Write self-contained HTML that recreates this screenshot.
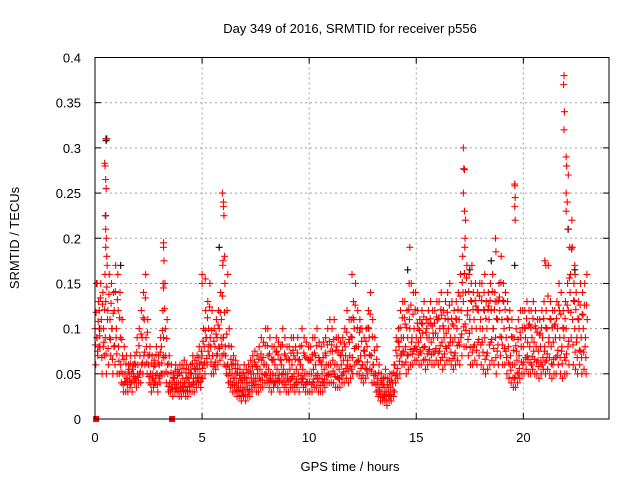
<!DOCTYPE html>
<html><head><meta charset="utf-8"><style>
body{margin:0;background:#fff}
svg{display:block;font-family:"Liberation Sans",sans-serif}
</style></head><body>
<svg id="chart" width="640" height="480">
<rect width="640" height="480" fill="#fff"/>
<text x="350" y="33" font-size="13" text-anchor="middle">Day 349 of 2016, SRMTID for receiver p556</text>
<text transform="translate(19,238) rotate(-90)" font-size="13" text-anchor="middle">SRMTID / TECUs</text>
<text x="350" y="471" font-size="13" text-anchor="middle">GPS time / hours</text>
<g id="grid"></g><g id="ticks"></g><g id="pts"></g>
<rect x="95" y="57.5" width="514" height="361.5" fill="none" stroke="#000" stroke-width="1"/>
</svg>
<script>
const xTicks=[0,5,10,15,20];
const yTicks=[0,0.05,0.1,0.15,0.2,0.25,0.3,0.35,0.4];
const yTickLabels=["0","0.05","0.1","0.15","0.2","0.25","0.3","0.35","0.4"];
const binStart=0, binStep=0.1;
const rowA=[.10,.09,.12,.11,.10,.13,.12,.11,.10,.12, .10,.08,.06,.05,.05,.045,.05,.05,.05,.06, .06,.07,.09,.11,.08,.06,.05,.05,.06,.05, .06,.08,.09,.07,.05,.04,.04,.045,.04,.04, .04,.045,.04,.035,.04,.05,.045,.05,.055,.05, .07,.08,.09,.10,.08,.07,.08,.09,.10,.11, .09,.07,.06,.05,.05,.045,.04,.04,.035,.04, .035,.04,.04,.045,.05,.045,.05,.055,.05,.06, .06,.055,.05,.05,.06,.055,.05,.06,.055,.05, .05,.055,.06,.05,.055,.05,.06,.055,.05,.05, .05,.05,.055,.06,.05,.045,.05,.055,.06,.06, .06,.065,.06,.06,.055,.06,.065,.07,.065,.07, .09,.10,.08,.08,.07,.06,.07,.08,.09,.07, .06,.05,.04,.035,.03,.035,.03,.03,.035,.04, .06,.07,.08,.09,.09,.08,.09,.10,.09,.10, .09,.085,.09,.095,.08,.09,.09,.085,.09,.095, .09,.10,.085,.09,.095,.10,.09,.085,.09,.10, .11,.12,.13,.14,.12,.11,.10,.11,.10,.12, .11,.10,.09,.10,.11,.12,.10,.09,.11,.12, .11,.10,.09,.08,.07,.06,.06,.065,.07,.08, .08,.09,.085,.08,.09,.085,.08,.075,.08,.09, .08,.10,.09,.08,.085,.09,.10,.09,.08,.09, .10,.12,.16,.11,.10,.09,.10,.09,.10,.09];
const rowB=[.06,.07,.08,.05,.07,.05,.06,.07,.05,.06, .05,.05,.04,.03,.03,.03,.035,.03,.04,.035, .04,.04,.05,.06,.05,.04,.03,.035,.04,.03, .04,.05,.05,.04,.03,.03,.025,.03,.03,.025, .025,.03,.025,.025,.03,.03,.03,.035,.04,.035, .045,.05,.06,.07,.05,.05,.055,.06,.065,.07, .06,.05,.04,.035,.03,.03,.025,.025,.02,.025, .02,.025,.025,.03,.035,.03,.03,.035,.035,.04, .04,.035,.03,.035,.04,.035,.03,.04,.035,.03, .03,.035,.035,.03,.035,.03,.04,.035,.03,.03, .03,.03,.035,.035,.03,.03,.03,.035,.04,.04, .04,.04,.035,.035,.035,.04,.04,.045,.04,.045, .05,.06,.05,.05,.045,.04,.045,.05,.055,.04, .04,.03,.025,.02,.02,.02,.015,.02,.02,.025, .04,.045,.05,.06,.06,.05,.055,.06,.06,.065, .065,.06,.06,.065,.055,.06,.065,.06,.06,.065, .06,.065,.055,.06,.065,.065,.06,.055,.06,.065, .06,.07,.08,.08,.07,.06,.06,.065,.06,.07, .06,.055,.05,.055,.06,.065,.06,.05,.06,.07, .06,.06,.05,.045,.04,.035,.035,.04,.045,.05, .05,.055,.05,.05,.055,.05,.05,.045,.05,.055, .05,.055,.05,.045,.05,.05,.06,.05,.045,.05, .05,.06,.09,.06,.055,.05,.06,.05,.055,.05];
const rowC=[.15,.13,.15,.14,.16,.17,.16,.15,.14,.17, .16,.14,.11,.08,.07,.06,.07,.06,.07,.09, .10,.12,.14,.16,.11,.08,.07,.065,.08,.07, .09,.12,.15,.11,.07,.06,.05,.06,.055,.06, .06,.065,.06,.055,.06,.07,.065,.07,.08,.075, .10,.12,.13,.15,.12,.10,.11,.12,.14,.17, .15,.12,.10,.08,.07,.065,.06,.055,.05,.06, .055,.06,.065,.07,.075,.07,.08,.09,.085,.10, .10,.09,.08,.08,.09,.085,.08,.10,.09,.08, .08,.09,.09,.08,.09,.08,.10,.09,.085,.08, .08,.09,.09,.10,.085,.08,.085,.09,.10,.11, .10,.11,.09,.09,.085,.09,.10,.12,.11,.11, .13,.15,.12,.11,.10,.09,.10,.12,.14,.11, .09,.08,.06,.05,.045,.055,.045,.05,.05,.06, .09,.10,.12,.13,.13,.12,.15,.15,.14,.14, .12,.11,.12,.13,.11,.12,.13,.12,.12,.13, .13,.14,.12,.13,.14,.15,.13,.12,.13,.14, .16,.18,.19,.17,.16,.15,.14,.15,.14,.15, .15,.14,.13,.14,.15,.16,.14,.13,.15,.18, .15,.14,.13,.12,.11,.09,.10,.11,.12,.12, .12,.13,.12,.12,.13,.12,.11,.11,.12,.13, .12,.17,.13,.12,.12,.13,.15,.14,.12,.13, .15,.19,.22,.15,.14,.13,.15,.14,.15,.16];
const rowD=[.09,.08,.10,.08,.09,.11,.09,.10,.08,.09, .12,.09,.07,.04,.045,.055,.04,.06,.045,.05, .05,.06,.07,.09,.07,.05,.045,.04,.05,.045, .05,.07,.10,.06,.04,.035,.045,.035,.05,.035, .035,.04,.045,.04,.05,.04,.055,.045,.06,.045, .06,.09,.075,.09,.07,.06,.07,.08,.09,.09, .08,.06,.055,.06,.045,.05,.035,.045,.03,.045, .04,.03,.05,.04,.06,.055,.045,.065,.06,.05, .07,.045,.065,.04,.075,.045,.065,.05,.07,.045, .065,.045,.07,.04,.065,.06,.045,.07,.04,.065, .065,.04,.07,.045,.065,.06,.04,.07,.05,.075, .075,.05,.08,.045,.07,.05,.08,.06,.085,.055, .11,.08,.065,.10,.06,.075,.055,.10,.07,.06, .05,.045,.03,.04,.025,.03,.035,.025,.04,.03, .05,.085,.07,.075,.105,.07,.11,.085,.075,.08, .10,.075,.105,.08,.10,.075,.105,.095,.075,.11, .075,.115,.10,.08,.11,.085,.105,.07,.11,.085, .09,.14,.105,.115,.095,.13,.08,.125,.085,.10, .085,.12,.07,.125,.085,.10,.13,.075,.135,.09, .13,.075,.11,.06,.09,.045,.075,.05,.09,.06, .10,.07,.105,.06,.075,.10,.065,.095,.06,.075, .065,.085,.11,.06,.105,.07,.12,.075,.10,.065, .08,.14,.19,.13,.085,.11,.075,.115,.08,.11];
const rowE=[.082,.075,.092,.068,.085,.072,.078,.088,.066,.081, .072,.064,.052,.038,.041,.038,.043,.041,.047,.043, .046,.052,.062,.074,.062,.047,.038,.043,.048,.038, .048,.062,.068,.052,.036,.032,.033,.038,.034,.031, .031,.036,.032,.031,.036,.038,.038,.042,.046,.041, .056,.062,.067,.082,.063,.058,.063,.072,.078,.082, .072,.058,.048,.042,.038,.037,.032,.031,.026,.032, .027,.033,.032,.037,.042,.038,.038,.043,.043,.049, .048,.043,.041,.042,.048,.043,.041,.049,.043,.038, .041,.043,.047,.038,.044,.041,.048,.044,.038,.041, .041,.038,.044,.048,.041,.037,.041,.044,.048,.049, .049,.053,.047,.046,.044,.048,.052,.056,.053,.058, .068,.078,.063,.064,.056,.048,.056,.063,.071,.053, .048,.038,.032,.027,.024,.027,.022,.026,.027,.032, .048,.056,.064,.072,.074,.063,.071,.077,.072,.078, .077,.071,.073,.079,.066,.072,.077,.071,.073,.078, .073,.081,.068,.072,.078,.081,.074,.067,.073,.081, .082,.094,.102,.098,.088,.079,.074,.082,.076,.088, .082,.074,.066,.073,.082,.088,.078,.068,.082,.091, .082,.078,.068,.062,.054,.046,.046,.051,.056,.063, .063,.068,.066,.062,.069,.066,.063,.058,.063,.068, .063,.072,.068,.061,.066,.068,.076,.068,.061,.068, .072,.086,.118,.082,.074,.068,.076,.068,.074,.068];
const rowF=[.118,.108,.134,.127,.121,.146,.138,.128,.117,.141, .132,.112,.088,.066,.061,.052,.061,.055,.061,.074, .081,.094,.112,.134,.096,.071,.062,.058,.071,.062, .074,.098,.122,.089,.061,.051,.046,.053,.048,.051, .051,.056,.051,.046,.051,.061,.056,.061,.068,.063, .086,.098,.112,.124,.098,.086,.094,.104,.118,.136, .118,.094,.081,.066,.061,.056,.051,.048,.043,.051, .046,.051,.053,.058,.063,.058,.066,.072,.068,.081, .081,.072,.066,.066,.074,.071,.066,.082,.072,.066, .066,.073,.076,.066,.073,.066,.081,.073,.068,.066, .066,.071,.073,.081,.068,.063,.068,.073,.082,.086, .082,.088,.076,.074,.071,.076,.083,.096,.088,.091, .112,.126,.101,.096,.086,.076,.086,.101,.116,.091, .076,.066,.051,.043,.038,.046,.038,.041,.043,.051, .076,.086,.101,.112,.112,.101,.121,.126,.116,.121, .106,.098,.106,.113,.096,.106,.111,.103,.106,.113, .111,.121,.103,.111,.118,.126,.111,.103,.111,.121, .136,.151,.161,.156,.141,.131,.121,.131,.121,.136, .131,.121,.111,.121,.131,.141,.121,.111,.131,.151, .131,.121,.111,.101,.091,.076,.081,.088,.096,.101, .101,.111,.103,.101,.111,.103,.096,.093,.101,.111, .101,.136,.111,.101,.103,.111,.126,.116,.101,.111, .126,.156,.188,.131,.121,.111,.126,.116,.126,.126];
const spikeT=[0.1,0.45,0.47,0.5,0.5,0.52,0.48,0.5,0.53,0.5,0.55,3.2,3.2,3.22,3.18,3.2,5.0,5.0,5.15,5.95,6.0,6.0,6.02,6.05,5.98,6.2,12.0,14.7,17.2,17.22,17.25,17.2,17.25,17.3,17.28,17.6,18.2,18.7,18.72,19.6,19.6,19.62,19.6,19.62,21.0,21.05,21.9,21.88,21.92,21.9,22.0,22.02,22.0,22.05,22.0,22.08,22.1,22.4,22.42];
const spikeV=[.15,.283,.28,.31,.265,.255,.225,.21,.2,.19,.18,.195,.19,.175,.15,.145,.16,.15,.155,.25,.24,.235,.225,.18,.175,.16,.16,.19,.30,.277,.276,.25,.23,.22,.20,.17,.16,.20,.185,.26,.258,.245,.235,.22,.175,.17,.38,.37,.34,.32,.29,.28,.25,.24,.23,.21,.27,.17,.16];
const blackT=[0.52,0.55,0.5,0.2,1.2,5.8,14.6,17.5,18.5,19.6,22.1,22.4];
const blackV=[.308,.31,.225,.10,.17,.19,.165,.165,.175,.17,.21,.165];
const markerT=[0.05,3.6];
const markerV=[0,0];

const X0=95,X1=609,Y0=419,Y1=57.5,XMAX=24,YMAX=0.4;
const sx=t=>X0+t/XMAX*(X1-X0);
const sy=v=>Y0-v/YMAX*(Y0-Y1);
const NS="http://www.w3.org/2000/svg";
function mk(tag,attrs,parent){const e=document.createElementNS(NS,tag);for(const k in attrs)e.setAttribute(k,attrs[k]);parent.appendChild(e);return e;}
const grid=document.getElementById('grid'),ticks=document.getElementById('ticks'),pts=document.getElementById('pts');
xTicks.forEach((t,i)=>{
  const x=sx(t);
  if(t>0){const g=mk('line',{x1:x,x2:x,y1:Y1,y2:Y0,stroke:'#a0a0a0','stroke-dasharray':'2,3'},grid);
  
  }
  mk('line',{x1:x,x2:x,y1:Y0,y2:Y0-6,stroke:'#000'},ticks);
  mk('line',{x1:x,x2:x,y1:Y1,y2:Y1+6,stroke:'#000'},ticks);
  const l=mk('text',{x:x,y:442,'font-size':13,'text-anchor':'middle'},ticks);l.textContent=t;
  
  
});
yTicks.forEach((v,i)=>{
  const y=sy(v);
  if(v>0&&v<YMAX){const g=mk('line',{x1:X0,x2:X1,y1:y,y2:y,stroke:'#a0a0a0','stroke-dasharray':'2,3'},grid);
  
  }
  mk('line',{x1:X0,x2:X0+6,y1:y,y2:y,stroke:'#000'},ticks);
  mk('line',{x1:X1,x2:X1-6,y1:y,y2:y,stroke:'#000'},ticks);
  const l=mk('text',{x:81,y:y+5,'font-size':13,'text-anchor':'end'},ticks);l.textContent=yTickLabels[i];
  
  
});
function plus(t,v,col,name){
  const x=sx(t),y=sy(v);
  const p=mk('path',{d:`M${x-3.5},${y}H${x+3.5}M${x},${y-3.5}V${y+3.5}`,stroke:col,'stroke-width':1.1,fill:'none'},pts);
  
  
}
blackT.forEach((t,i)=>plus(t,blackV[i],'#000000','black-point'));
[rowA,rowE,rowB,rowF,rowC,rowD].forEach((row,r)=>{
  row.forEach((v,i)=>plus(binStart+i*binStep+r*0.0167,v,'#ff0000','srmtid-point'));
});
spikeT.forEach((t,i)=>plus(t,spikeV[i],'#ff0000','srmtid-spike'));
markerT.forEach((t,i)=>{
  const m=mk('rect',{x:sx(t)-3,y:sy(markerV[i])-3,width:6,height:6,fill:'#ff0000'},pts);
  
  
});
</script>
</body></html>
